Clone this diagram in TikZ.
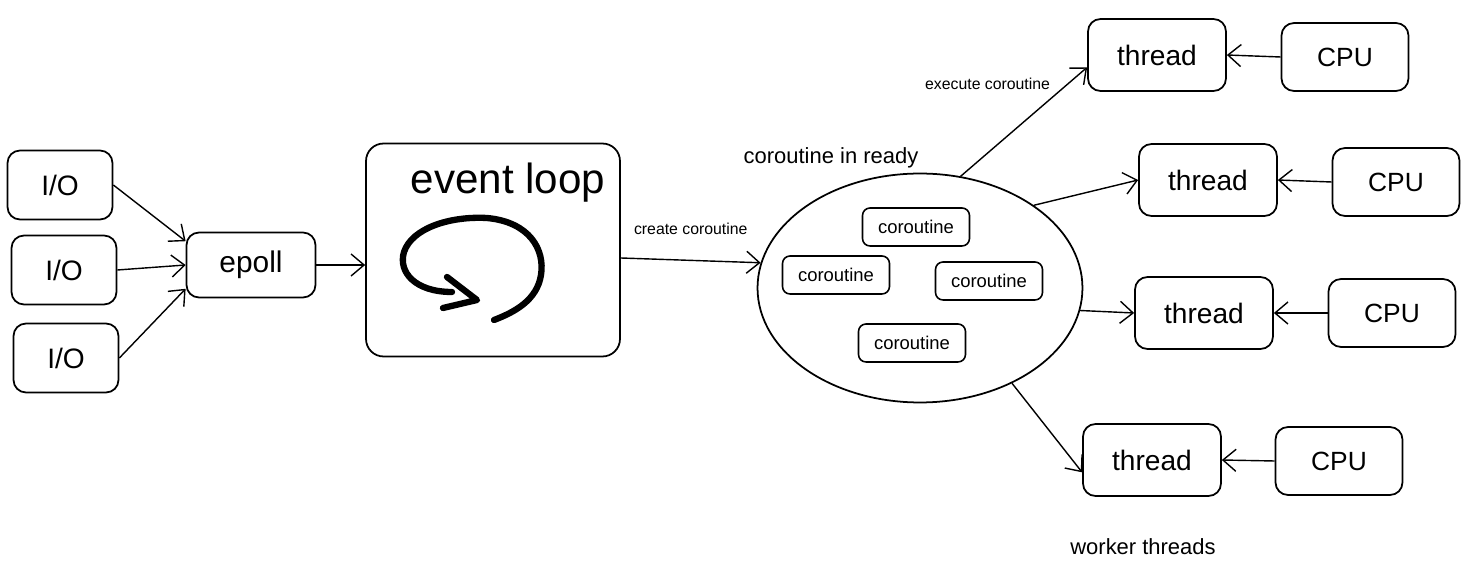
\documentclass[tikz,border=0pt]{standalone}
\usepackage{fontspec}
\setmainfont{Liberation Sans}
\usetikzlibrary{arrows.meta, positioning, shapes.geometric}

\begin{document}
\begin{tikzpicture}[
    x=0.02cm, y=-0.02cm,
    box/.style={draw, line width=1pt, rounded corners=0.25cm, align=center, inner sep=0pt},
    iobox/.style={box, minimum width=2.1cm, minimum height=1.38cm, font=\fontsize{16}{19}\selectfont},
    pollbox/.style={box, minimum width=2.58cm, minimum height=1.3cm, font=\fontsize{17}{20}\selectfont},
    loopbox/.style={box, rounded corners=0.35cm, minimum width=5.08cm, minimum height=4.26cm},
    cobox/.style={box, rounded corners=0.15cm, line width=0.9pt, minimum width=2.14cm, minimum height=0.76cm, font=\fontsize{10.5}{12}\selectfont},
    thrbox/.style={box, minimum width=2.76cm, minimum height=1.44cm, font=\fontsize{16}{19}\selectfont},
    cpubox/.style={box, minimum width=2.54cm, minimum height=1.36cm, font=\fontsize{15}{18}\selectfont},
    flow/.style={-{Straight Barb[length=2.6mm, width=4.4mm]}, line width=0.8pt},
    note/.style={font=\fontsize{9}{11}\selectfont},
    caption/.style={font=\fontsize{12.5}{15}\selectfont}
]
    \useasboundingbox (0,0) rectangle (1472,580);

    % sources
    \node[iobox] (io1) at (60,185) {I/O};
    \node[iobox] (io2) at (64,270) {I/O};
    \node[iobox] (io3) at (66,358) {I/O};
    \node[pollbox] (epoll) at (251,265) {epoll};

    \draw[flow] (io1.east) -- (epoll.160);
    \draw[flow] (io2.east) -- (epoll.west);
    \draw[flow] (io3.east) -- (epoll.200);

    % event loop
    \node[loopbox] (loop) at (493,250) {};
    \node[font=\fontsize{24}{28}\selectfont] (looptitle) at (508,183) {event loop};
    \draw[line width=3.6pt, line cap=round, line join=round]
        (452,292) .. controls (415,292) and (398,272) .. (404,252)
        .. controls (412,228) and (450,216) .. (487,218)
        .. controls (530,222) and (545,250) .. (541,275)
        .. controls (537,300) and (515,312) .. (494,320);
    \draw[line width=3.6pt, line cap=round, line join=round]
        (447,277) -- (477,300) -- (443,308);

    \draw[flow] (epoll.east) -- (epoll.east -| loop.west);

    % ready queue
    \node[draw, ellipse, line width=1pt, minimum width=6.5cm, minimum height=4.58cm] (ready) at (920,288) {};
    \node[caption] (readytitle) at (831,158) {coroutine in ready};
    \node[cobox] (co1) at (916,227) {coroutine};
    \node[cobox] (co2) at (836,275) {coroutine};
    \node[cobox] (co3) at (989,281) {coroutine};
    \node[cobox] (co4) at (912,343) {coroutine};

    \draw[flow] ([yshift=-0.16cm]loop.east) -- node[note, above=0.38cm] {create coroutine} (ready.171);

    % workers
    \node[thrbox] (t1) at (1157,55) {thread};
    \node[thrbox] (t2) at (1208,180) {thread};
    \node[thrbox] (t3) at (1204,313) {thread};
    \node[thrbox] (t4) at (1152,460) {thread};
    \node[cpubox] (c1) at (1345,57) {CPU};
    \node[cpubox] (c2) at (1396,182) {CPU};
    \node[cpubox] (c3) at (1392,313) {CPU};
    \node[cpubox] (c4) at (1339,461) {CPU};
    \node[caption, below=0.72cm of t4, xshift=-0.18cm] (workers) {worker threads};

    \draw[flow] (ready.70) -- node[note, pos=0.8, left=3pt, yshift=0.1cm] {execute coroutine} (t1.190);
    \draw[flow] (ready.36) -- (t2.west);
    \draw[flow] (ready.352) -- (t3.west);
    \draw[flow] (ready.314) -- (t4.190);

    \foreach \i in {1,...,4}
        \draw[flow] (c\i.west) -- (t\i.east);
\end{tikzpicture}
\end{document}
